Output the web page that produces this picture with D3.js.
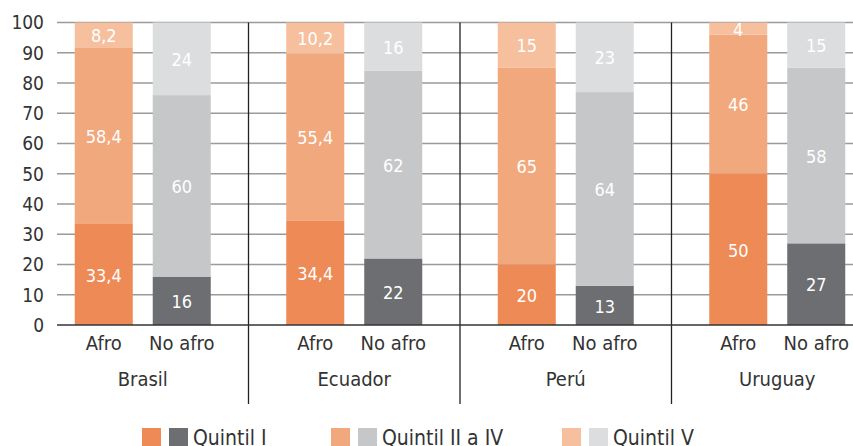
<!DOCTYPE html>
<html>
<head>
<meta charset="utf-8">
<script src="https://cdn.jsdelivr.net/npm/d3@7"></script>
<style>
  body { margin: 0; background: #fff; }
  svg { display: block; font-family: "Liberation Sans Narrow", "DejaVu Sans Condensed", sans-serif; }
</style>
</head>
<body>
<div id="vis"></div>
<script>
const countries = ["Brasil", "Ecuador", "Perú", "Uruguay"];
const groups = ["Afro", "No afro"];
const quintiles = ["Quintil I", "Quintil II a IV", "Quintil V"];

// values per country, [Afro, No afro], each [QI, QII-IV, QV]
const brasil = [[33.4, 58.4, 8.2], [16, 60, 24]];
const ecuador = [[34.4, 55.4, 10.2], [22, 62, 16]];
const peru = [[20, 65, 15], [13, 64, 23]];
const uruguay = [[50, 46, 4], [27, 58, 15]];

const yTicks = [0, 10, 20, 30, 40, 50, 60, 70, 80, 90, 100];

const orangeColors = ["#ee8a55", "#f2a87d", "#f6c09e"];
const grayColors = ["#6d6e71", "#c6c7c9", "#dcdddf"];

const width = 853, height = 446;
const plotLeft = 57, plotRight = 853, plotTop = 22.5, plotBottom = 325;

const svg = d3.select("#vis").append("svg")
    .attr("width", width)
    .attr("height", height);

const values = [brasil, ecuador, peru, uruguay];
const rows = [];
countries.forEach(function (c, i) {
    groups.forEach(function (g, j) {
        let y0 = 0;
        values[i][j].forEach(function (v, k) {
            rows.push({country: c, group: g, q: k, v: v, y0: y0, y1: y0 + v});
            y0 += v;
        });
    });
});

const y = d3.scaleLinear().domain([0, 100]).range([plotBottom, plotTop]);

// the first group is partly cut by the y axis in the original
const x0 = d3.scaleBand().domain(countries).range([37, 883]);
const x1 = d3.scaleBand().domain(groups).range([0, x0.bandwidth()])
    .paddingInner(0.256).paddingOuter(0.484);

// grid
svg.append("g").selectAll("line")
    .data(yTicks.filter(d => d > 0))
    .enter().append("line")
    .attr("x1", plotLeft).attr("x2", plotRight)
    .attr("y1", d => y(d)).attr("y2", d => y(d))
    .attr("stroke", "#9a9a9a")
    .attr("stroke-width", 1.3);

// y labels
svg.append("g").selectAll("text")
    .data(yTicks)
    .enter().append("text")
    .attr("x", 44)
    .attr("y", d => y(d))
    .attr("dy", "0.36em")
    .attr("text-anchor", "end")
    .attr("fill", "#333")
    .style("font-size", "19px")
    .text(d => d);

// separators
svg.append("g").selectAll("line")
    .data(countries.slice(1))
    .enter().append("line")
    .attr("x1", d => x0(d)).attr("x2", d => x0(d))
    .attr("y1", plotTop).attr("y2", 404)
    .attr("stroke", "#222")
    .attr("stroke-width", 1.3);

// bars
svg.append("g").selectAll("rect")
    .data(rows)
    .enter().append("rect")
    .attr("x", d => x0(d.country) + x1(d.group))
    .attr("width", x1.bandwidth())
    .attr("y", d => y(d.y1))
    .attr("height", d => y(d.y0) - y(d.y1))
    .attr("fill", d => d.group === "Afro" ? orangeColors[d.q] : grayColors[d.q]);

svg.append("g").selectAll("text")
    .data(rows)
    .enter().append("text")
    .attr("x", d => x0(d.country) + x1(d.group) + x1.bandwidth() / 2)
    .attr("y", d => y((d.y0 + d.y1) / 2))
    .attr("dy", "0.4em")
    .attr("text-anchor", "middle")
    .attr("fill", "#fff")
    .style("font-size", "18px")
    .text(d => String(d.v).replace(".", ","));

// baseline
svg.append("line")
    .attr("x1", plotLeft).attr("x2", plotRight)
    .attr("y1", y(0)).attr("y2", y(0))
    .attr("stroke", "#333")
    .attr("stroke-width", 1.5);

// group labels
countries.forEach(function (c) {
    svg.append("g").selectAll("text")
        .data(groups)
        .enter().append("text")
        .attr("x", g => x0(c) + x1(g) + x1.bandwidth() / 2)
        .attr("y", 350)
        .attr("text-anchor", "middle")
        .attr("fill", "#333")
        .style("font-size", "20px")
        .text(g => g);
});

svg.append("g").selectAll("text")
    .data(countries)
    .enter().append("text")
    .attr("x", d => x0(d) + x0.bandwidth() / 2)
    .attr("y", 386)
    .attr("text-anchor", "middle")
    .attr("fill", "#333")
    .style("font-size", "20px")
    .text(d => d);

// legend, cut by the bottom edge as in the original
const legendX = [142, 331, 562];
const legend = svg.append("g").selectAll("g")
    .data(quintiles)
    .enter().append("g")
    .attr("transform", (d, i) => "translate(" + legendX[i] + ",428)");

legend.append("rect")
    .attr("width", 19).attr("height", 19)
    .attr("fill", (d, i) => orangeColors[i]);
legend.append("rect")
    .attr("x", 27)
    .attr("width", 19).attr("height", 19)
    .attr("fill", (d, i) => grayColors[i]);
legend.append("text")
    .attr("x", 51)
    .attr("y", 17)
    .attr("fill", "#333")
    .style("font-size", "21px")
    .text(d => d);
</script>
</body>
</html>
